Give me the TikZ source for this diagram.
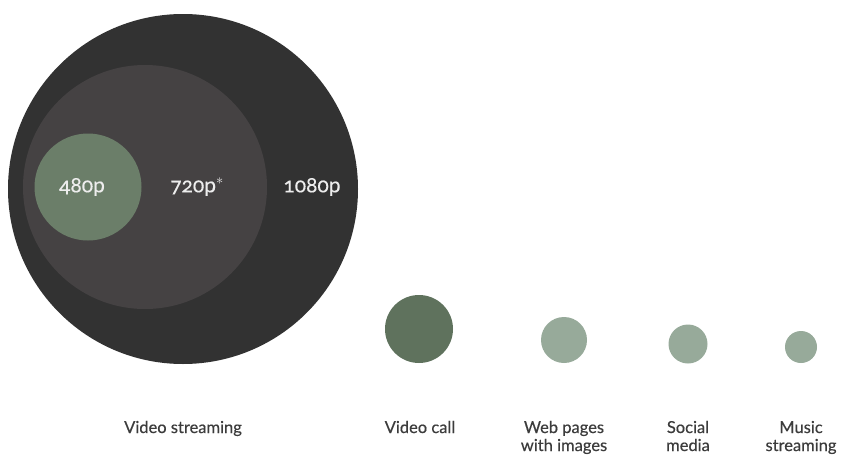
\documentclass[tikz,border=0pt]{standalone}
\usepackage{fontspec}
\setmainfont{Lato}[Numbers=OldStyle]
\newfontfamily\labelfont{Lato}[Numbers=OldStyle,FakeBold=0.35]
\definecolor{outerdark}{HTML}{323232}
\definecolor{middark}{HTML}{454243}
\definecolor{sage}{HTML}{6B7E69}
\definecolor{sagedark}{HTML}{5F725D}
\definecolor{sagelight}{HTML}{97AA9A}
\definecolor{labelgray}{HTML}{3C3C3C}
\definecolor{inlabel}{HTML}{EDEDED}
\begin{document}
\begin{tikzpicture}[x=1pt,y=-1pt,
  disc/.style={circle,inner sep=0pt,minimum size=#1},
  inlbl/.style={text=inlabel,font=\labelfont\fontsize{21}{24}\selectfont},
  caption/.style={text=labelgray,align=center,font=\labelfont\fontsize{16.5}{18}\selectfont,anchor=base}]
\useasboundingbox (0,0) rectangle (841,455);
\fill[white] (0,0) rectangle (841,455);
% nested video streaming discs
\node[disc=350pt,fill=outerdark] (p1080) at (183,189) {};
\node[disc=244pt,fill=middark] (p720) at (145,187) {};
\node[disc=107pt,fill=sage] (p480) at (88,187) {};
\node[inlbl] (t480) at (82,187) {480p};
\node[inlbl] (t720) at (197,187) {720p$^{*}$};
\node[inlbl] (t1080) at (312,187) {1080p};
% other services
\node[disc=68pt,fill=sagedark] (call) at (419,329) {};
\node[disc=46pt,fill=sagelight] (web) at (564,340) {};
\node[disc=39pt,fill=sagelight] (social) at (688,344) {};
\node[disc=32pt,fill=sagelight] (music) at (801,347) {};
% captions (multi-line ones sit on the baseline of their last line)
\node[caption] (cstream) at (183,433) {Video streaming};
\node[caption] (ccall) at (420,433) {Video call};
\node[caption] (cweb) at (564,451) {Web pages\\with images};
\node[caption] (csocial) at (688,451) {Social\\media};
\node[caption] (cmusic) at (801,451) {Music\\streaming};
\end{tikzpicture}
\end{document}
